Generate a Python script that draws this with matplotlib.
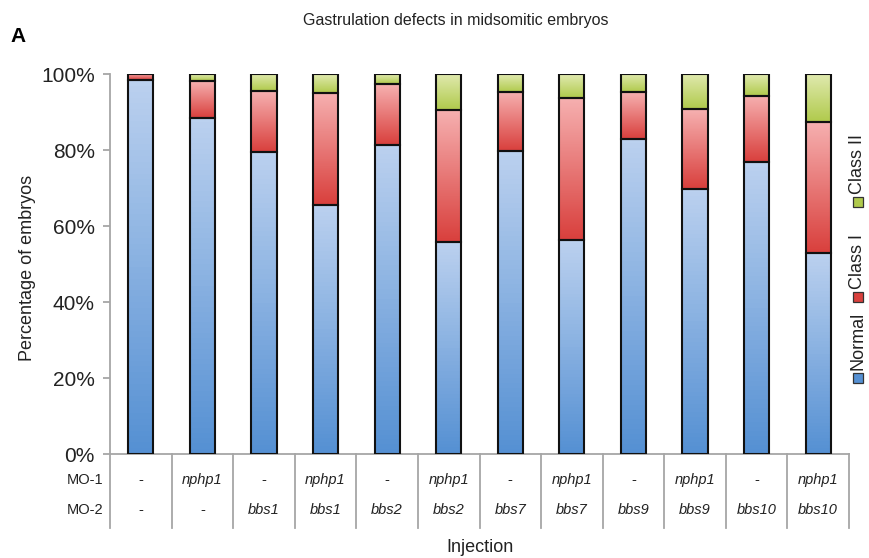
import numpy as np
import matplotlib.pyplot as plt
from matplotlib.colors import LinearSegmentedColormap
from matplotlib.patches import Rectangle

plt.rcParams['font.family'] = ['Liberation Sans', 'DejaVu Sans']

mo1 = ['-', 'nphp1', '-', 'nphp1', '-', 'nphp1', '-', 'nphp1', '-', 'nphp1', '-', 'nphp1']
mo2 = ['-', '-', 'bbs1', 'bbs1', 'bbs2', 'bbs2', 'bbs7', 'bbs7', 'bbs9', 'bbs9', 'bbs10', 'bbs10']

# percentages per injection group
normal = [98.4, 88.5, 79.5, 65.6, 81.4, 55.7, 79.7, 56.3, 82.9, 69.8, 76.8, 52.8]
class_i = [1.6, 9.7, 16.0, 29.5, 16.0, 34.8, 15.6, 37.5, 12.3, 20.9, 17.5, 34.5]
class_ii = [0.0, 1.8, 4.5, 4.9, 2.6, 9.5, 4.7, 6.2, 4.8, 9.3, 5.7, 12.7]

series = ['Normal', 'Class I', 'Class II']
grad = {
    'Normal': ('#bbd1ef', '#5590d3'),
    'Class I': ('#f6b0b0', '#d9403d'),
    'Class II': ('#e1eab0', '#b0ca4c'),
}

fig = plt.figure(figsize=(8.69, 5.58), dpi=100)
ax = fig.add_axes([110/869, 1-454/558, 739/869, 380/558])

n = len(normal)
x = np.arange(n)
w = 0.41
vals = [normal, class_i, class_ii]
ramp = np.linspace(0, 1, 64).reshape(-1, 1)

for k, name in enumerate(series):
    cmap = LinearSegmentedColormap.from_list(name, [grad[name][1], grad[name][0]])
    for i in range(n):
        bottom = sum(vals[j][i] for j in range(k))
        h = vals[k][i]
        if h <= 0:
            continue
        ax.imshow(ramp, cmap=cmap, origin='lower', aspect='auto',
                  extent=[x[i]-w/2, x[i]+w/2, bottom, bottom+h], zorder=2)
        ax.add_patch(Rectangle((x[i]-w/2, bottom), w, h, fill=False,
                               edgecolor='#111111', lw=1.5, zorder=3))

ax.set_xlim(-0.5, n-0.5)
ax.set_ylim(0, 100)
ax.set_yticks(range(0, 101, 20))
ax.set_yticklabels([f'{v}%' for v in range(0, 101, 20)], fontsize=15, color='#222222')
ax.set_xticks([])
for s in ['top', 'right']:
    ax.spines[s].set_visible(False)
for s in ['left', 'bottom']:
    ax.spines[s].set_color('#a6a6a6')
    ax.spines[s].set_linewidth(1.3)
ax.tick_params(axis='y', length=5, width=1.3, color='#a6a6a6', pad=6)

# table of injections below the axis
tr = ax.get_xaxis_transform()
for b in np.arange(n+1) - 0.5:
    ax.plot([b, b], [0, -0.195], transform=tr, color='#a6a6a6', lw=1.3, clip_on=False)
for i in range(n):
    st1 = 'normal' if mo1[i] == '-' else 'italic'
    st2 = 'normal' if mo2[i] == '-' else 'italic'
    ax.text(x[i], -0.068, mo1[i], transform=tr, ha='center', va='center',
            fontsize=10.5, style=st1, color='#222222')
    ax.text(x[i], -0.147, mo2[i], transform=tr, ha='center', va='center',
            fontsize=10.5, style=st2, color='#222222')
ax.text(-0.6, -0.068, 'MO-1', transform=tr, ha='right', va='center', fontsize=10.5, color='#222222')
ax.text(-0.6, -0.147, 'MO-2', transform=tr, ha='right', va='center', fontsize=10.5, color='#222222')
ax.text(0.5, -0.247, 'Injection', transform=ax.transAxes, ha='center', va='center',
        fontsize=13, color='#222222')

fig.text(28/869, 1-268/558, 'Percentage of embryos', rotation=90, ha='center', va='center',
         fontsize=13, color='#222222')
fig.text(456/869, 1-20/558, 'Gastrulation defects in midsomitic embryos', ha='center',
         va='center', fontsize=11.5, color='#222222')
fig.text(10/869, 1-37/558, 'A', ha='left', va='center', fontsize=15, weight='bold')

# rotated legend on the right
leg_x = 858
leg_sq = [378, 297, 202]
for name, ys in zip(series, leg_sq):
    sq = 10
    fig.add_artist(Rectangle(((leg_x-sq/2)/869, 1-(ys+sq/2)/558), sq/869, sq/558,
                             transform=fig.transFigure, facecolor=grad[name][1],
                             edgecolor='#333333', lw=0.9))
    fig.text(leg_x/869, 1-(ys-8)/558, name, rotation=90, rotation_mode='anchor',
             ha='left', va='center', fontsize=13, color='#222222')

fig.savefig('out.png', dpi=100)
